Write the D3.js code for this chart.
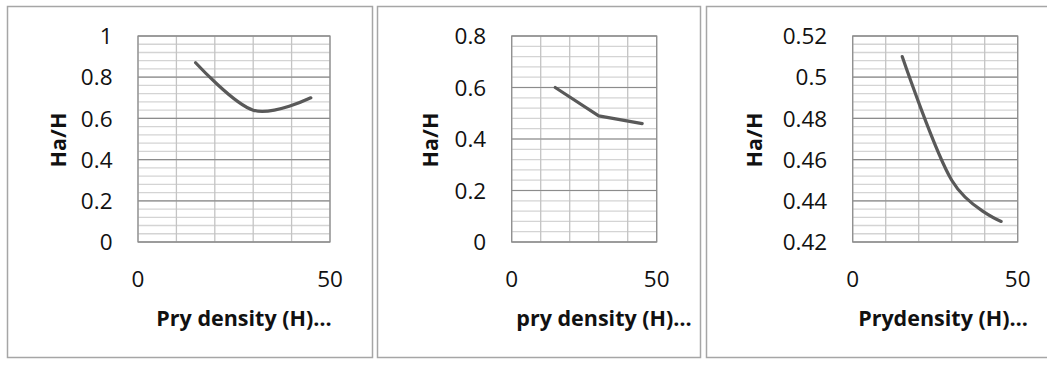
<!DOCTYPE html>
<html><head><meta charset="utf-8">
<script src="https://cdn.jsdelivr.net/npm/d3@7"></script>
<style>
html,body{margin:0;padding:0;background:#fff;}
svg{display:block;}
text{font-family:"Open Sans",sans-serif;fill:#111;}
</style></head>
<body>
<svg id="chart" width="1047" height="366"></svg>
<script>
// ---- data ----
const pryDensity = [15, 30, 45];
const ratioPanel1 = [0.87, 0.64, 0.70];
const ratioPanel2 = [0.60, 0.49, 0.46];
const ratioPanel3 = [0.51, 0.45, 0.43];
const xTickLabels = [0, 50];
const xGridStep = 10;
const yDomains = [[0, 1], [0, 0.8], [0.42, 0.52]];
const yMajorSteps = [0.2, 0.2, 0.02];
const yMinorSteps = [0.04, 0.04, 0.004];
const xTitles = ["Pry density (H)…", "pry density (H)…", "Prydensity (H)…"];
const yTitle = "Ha/H";
const smoothed = [true, false, true];
const seriesList = [ratioPanel1, ratioPanel2, ratioPanel3];

// ---- layout ----
const panels = [
  {bx0: 7,   bx1: 372,  px0: 138,   px1: 330,   xTitleX: 244, yTitleX: 58},
  {bx0: 377, bx1: 700,  px0: 511.7, px1: 656.7, xTitleX: 604, yTitleX: 430},
  {bx0: 706, bx1: 1060, px0: 852.7, px1: 1017.7, xTitleX: 943, yTitleX: 754}
];
const by0 = 6, by1 = 357, py0 = 36, py1 = 242;

const svg = d3.select("#chart");

panels.forEach((p, i) => {
  const g = svg.append("g");
  g.append("rect")
    .attr("x", p.bx0 + 0.5).attr("y", by0 + 0.5)
    .attr("width", p.bx1 - p.bx0).attr("height", by1 - by0)
    .attr("fill", "#fff").attr("stroke", "#a6a6a6").attr("stroke-width", 1.5);

  const x = d3.scaleLinear().domain([0, 50]).range([p.px0, p.px1]);
  const y = d3.scaleLinear().domain(yDomains[i]).range([py1, py0]);
  const [y0, y1] = yDomains[i];
  const eps = 1e-9;
  const minor = d3.range(y0, y1 + eps, yMinorSteps[i]);
  const major = d3.range(y0, y1 + eps, yMajorSteps[i]);

  g.append("g").selectAll("line").data(minor).join("line")
    .attr("x1", p.px0).attr("x2", p.px1)
    .attr("y1", d => y(d)).attr("y2", d => y(d))
    .attr("stroke", "#d4d4d4").attr("stroke-width", 1.3);
  g.append("g").selectAll("line").data(d3.range(0, 50 + eps, xGridStep)).join("line")
    .attr("x1", d => x(d)).attr("x2", d => x(d))
    .attr("y1", py0).attr("y2", py1)
    .attr("stroke", "#c4c4c4").attr("stroke-width", 1.3);
  g.append("g").selectAll("line").data(major).join("line")
    .attr("x1", p.px0).attr("x2", p.px1)
    .attr("y1", d => y(d)).attr("y2", d => y(d))
    .attr("stroke", "#8c8c8c").attr("stroke-width", 1.2);
  g.append("rect")
    .attr("x", p.px0).attr("y", py0)
    .attr("width", p.px1 - p.px0).attr("height", py1 - py0)
    .attr("fill", "none").attr("stroke", "#8c8c8c").attr("stroke-width", 1.2);

  g.append("g").selectAll("text").data(major).join("text")
    .attr("x", p.px0 - 25.5).attr("y", d => y(d))
    .attr("dy", "0.36em").attr("text-anchor", "end")
    .style("font-size", "22.5px")
    .text(d => String(+d.toFixed(4)));

  g.append("g").selectAll("text").data(xTickLabels).join("text")
    .attr("x", d => x(d)).attr("y", 287)
    .attr("text-anchor", "middle")
    .style("font-size", "22.5px")
    .text(d => d);

  g.append("text")
    .attr("x", p.xTitleX).attr("y", 326)
    .attr("text-anchor", "middle")
    .style("font-size", "21.5px").style("font-weight", "bold")
    .text(xTitles[i]);
  g.append("text")
    .attr("transform", `translate(${p.yTitleX},${(py0 + py1) / 2 + 1}) rotate(-90)`)
    .attr("text-anchor", "middle").attr("dy", "0.36em")
    .style("font-size", "21.5px").style("font-weight", "bold")
    .text(yTitle);

  const line = d3.line()
    .x((d, k) => x(pryDensity[k]))
    .y(d => y(d))
    .curve(smoothed[i] ? d3.curveCardinal.tension(0) : d3.curveLinear);
  g.append("path")
    .datum(seriesList[i])
    .attr("d", line)
    .attr("fill", "none").attr("stroke", "#595959")
    .attr("stroke-width", 3.2).attr("stroke-linecap", "round").attr("stroke-linejoin", "round");
});
</script>
</body></html>
